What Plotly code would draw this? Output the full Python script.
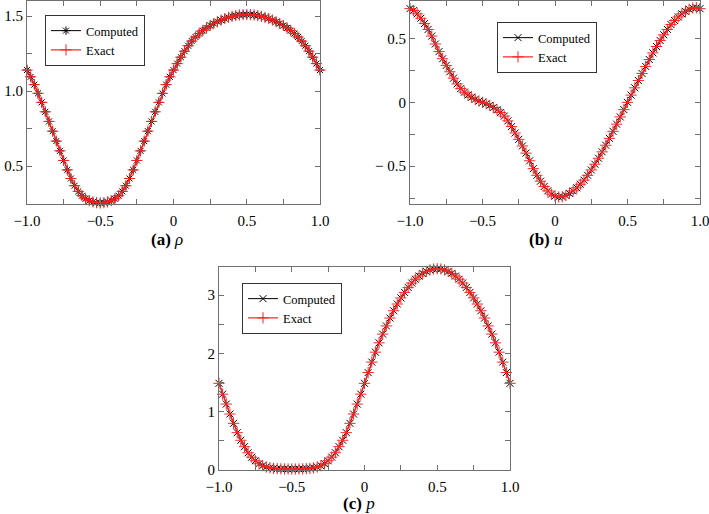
import plotly.graph_objects as go

# ---------------- data ----------------
x_grid = [-1.000, -0.975, -0.950, -0.925, -0.900, -0.875, -0.850, -0.825, -0.800, -0.775,
          -0.750, -0.725, -0.700, -0.675, -0.650, -0.625, -0.600, -0.575, -0.550, -0.525,
          -0.500, -0.475, -0.450, -0.425, -0.400, -0.375, -0.350, -0.325, -0.300, -0.275,
          -0.250, -0.225, -0.200, -0.175, -0.150, -0.125, -0.100, -0.075, -0.050, -0.025,
          0.000, 0.025, 0.050, 0.075, 0.100, 0.125, 0.150, 0.175, 0.200, 0.225,
          0.250, 0.275, 0.300, 0.325, 0.350, 0.375, 0.400, 0.425, 0.450, 0.475,
          0.500, 0.525, 0.550, 0.575, 0.600, 0.625, 0.650, 0.675, 0.700, 0.725,
          0.750, 0.775, 0.800, 0.825, 0.850, 0.875, 0.900, 0.925, 0.950, 0.975, 1.000]

rho_values = [1.140, 1.095, 1.043, 0.985, 0.925, 0.862, 0.798, 0.733, 0.667, 0.602,
              0.538, 0.475, 0.418, 0.370, 0.332, 0.303, 0.283, 0.270, 0.262, 0.257,
              0.255, 0.257, 0.262, 0.270, 0.283, 0.303, 0.332, 0.370, 0.418, 0.475,
              0.538, 0.602, 0.667, 0.733, 0.798, 0.862, 0.925, 0.985, 1.043, 1.095,
              1.140, 1.183, 1.226, 1.266, 1.302, 1.333, 1.360, 1.383, 1.403, 1.421,
              1.437, 1.450, 1.462, 1.473, 1.483, 1.491, 1.498, 1.503, 1.507, 1.509,
              1.510, 1.509, 1.507, 1.503, 1.498, 1.491, 1.483, 1.473, 1.462, 1.450,
              1.437, 1.421, 1.403, 1.383, 1.360, 1.333, 1.302, 1.266, 1.226, 1.183, 1.140]

u_values = [0.735, 0.720, 0.694, 0.660, 0.618, 0.572, 0.520, 0.458, 0.398, 0.342,
            0.290, 0.240, 0.190, 0.145, 0.108, 0.080, 0.058, 0.040, 0.024, 0.010,
            0.000, -0.010, -0.024, -0.040, -0.058, -0.080, -0.108, -0.145, -0.190, -0.240,
            -0.290, -0.342, -0.398, -0.458, -0.520, -0.572, -0.618, -0.660, -0.694, -0.720,
            -0.735, -0.742, -0.740, -0.730, -0.714, -0.694, -0.670, -0.642, -0.610, -0.572,
            -0.530, -0.485, -0.438, -0.388, -0.336, -0.282, -0.227, -0.171, -0.114, -0.057,
            0.000, 0.057, 0.114, 0.171, 0.227, 0.282, 0.336, 0.388, 0.438, 0.485,
            0.530, 0.572, 0.610, 0.642, 0.670, 0.694, 0.714, 0.730, 0.740, 0.742, 0.735]

p_values = [1.486, 1.300, 1.130, 0.960, 0.800, 0.640, 0.510, 0.400, 0.295, 0.220,
            0.158, 0.108, 0.074, 0.052, 0.037, 0.028, 0.023, 0.020, 0.018, 0.017,
            0.017, 0.017, 0.018, 0.020, 0.023, 0.028, 0.037, 0.052, 0.074, 0.108,
            0.158, 0.220, 0.295, 0.400, 0.510, 0.640, 0.800, 0.960, 1.130, 1.300,
            1.486, 1.670, 1.850, 2.020, 2.180, 2.330, 2.470, 2.605, 2.730, 2.845,
            2.950, 3.045, 3.130, 3.205, 3.270, 3.325, 3.370, 3.405, 3.430, 3.445,
            3.450, 3.445, 3.430, 3.405, 3.370, 3.325, 3.270, 3.205, 3.130, 3.045,
            2.950, 2.845, 2.730, 2.605, 2.470, 2.330, 2.180, 2.020, 1.850, 1.670, 1.486]

x_tickvals = [-1.0, -0.75, -0.5, -0.25, 0.0, 0.25, 0.5, 0.75, 1.0]
x_ticktext = ["−1.0", "", "−0.5", "", "0", "", "0.5", "", "1.0"]

rho_tickvals = [0.25, 0.5, 0.75, 1.0, 1.25, 1.5]
rho_ticktext = ["", "0.5", "", "1.0", "", "1.5"]

u_tickvals = [-0.75, -0.5, -0.25, 0.0, 0.25, 0.5, 0.75]
u_ticktext = ["", "− 0.5", "", "0", "", "0.5", ""]

p_tickvals = [0, 0.5, 1, 1.5, 2, 2.5, 3]
p_ticktext = ["0", "", "1", "", "2", "", "3"]

series_names = ["Computed", "Exact"]
panel_titles = ["<b>(a)</b> <i>ρ</i>", "<b>(b)</b> <i>u</i>", "<b>(c)</b> <i>p</i>"]

# ---------------- styling ----------------
FONT = "Liberation Serif"
AXC = "#707070"
W, H = 709, 514


def px_x(v):
    return v / W


def px_y(v):
    return 1 - v / H


fig = go.Figure()

panels = [
    dict(xa="x", ya="y", legend="legend", vals=rho_values, comp_symbol="asterisk-open"),
    dict(xa="x2", ya="y2", legend="legend2", vals=u_values, comp_symbol="x-thin-open"),
    dict(xa="x3", ya="y3", legend="legend3", vals=p_values, comp_symbol="x-thin-open"),
]

for pn in panels:
    fig.add_trace(go.Scatter(
        x=x_grid, y=pn["vals"], name=series_names[0], mode="lines+markers",
        xaxis=pn["xa"], yaxis=pn["ya"], legend=pn["legend"], cliponaxis=False,
        line=dict(color="black", width=1),
        marker=dict(symbol=pn["comp_symbol"], size=7, color="black",
                    line=dict(color="black", width=1)),
    ))
    fig.add_trace(go.Scatter(
        x=x_grid, y=pn["vals"], name=series_names[1], mode="lines+markers",
        xaxis=pn["xa"], yaxis=pn["ya"], legend=pn["legend"], cliponaxis=False,
        line=dict(color="#ff2020", width=1.2),
        marker=dict(symbol="cross-thin-open", size=8, color="#ff2020",
                    line=dict(color="#ff2020", width=1)),
    ))


def axis(domain, rng, tickvals, ticktext, anchor, is_x):
    d = dict(
        domain=domain, range=rng, anchor=anchor, automargin=False,
        showline=True, linecolor=AXC, linewidth=1, mirror="ticks",
        showgrid=False, zeroline=False,
        ticks="inside", ticklen=5, tickwidth=1, tickcolor=AXC,
        tickmode="array", tickvals=tickvals, ticktext=ticktext,
        tickfont=dict(family=FONT, size=15, color="black"),
        ticklabeloverflow="allow",
    )
    if is_x:
        d["ticklabelstandoff"] = 3
    return d


dom_a_x = [px_x(27), px_x(320)]
dom_b_x = [px_x(410), px_x(700)]
dom_c_x = [px_x(219), px_x(510)]
dom_top_y = [px_y(204), px_y(1)]
dom_c_y = [px_y(470), px_y(267)]

legend_common = dict(
    font=dict(family=FONT, size=12.5, color="black"),
    bgcolor="white", bordercolor="#333333", borderwidth=1,
    xanchor="left", yanchor="top", tracegroupgap=0,
)

fig.update_layout(
    width=W, height=H,
    margin=dict(l=0, r=0, t=0, b=0, autoexpand=False),
    paper_bgcolor="white", plot_bgcolor="white",
    showlegend=True,
    xaxis=axis(dom_a_x, [-1, 1], x_tickvals, x_ticktext, "y", True),
    yaxis=axis(dom_top_y, [0.248, 1.6], rho_tickvals, rho_ticktext, "x", False),
    xaxis2=axis(dom_b_x, [-1, 1], x_tickvals, x_ticktext, "y2", True),
    yaxis2=axis(dom_top_y, [-0.797, 0.795], u_tickvals, u_ticktext, "x2", False),
    xaxis3=axis(dom_c_x, [-1, 1], x_tickvals, x_ticktext, "y3", True),
    yaxis3=axis(dom_c_y, [0, 3.48], p_tickvals, p_ticktext, "x3", False),
    legend=dict(x=px_x(45), y=px_y(15), **legend_common),
    legend2=dict(x=px_x(497), y=px_y(22), **legend_common),
    legend3=dict(x=px_x(242), y=px_y(283), **legend_common),
)

title_pos = [(167, 239), (546, 239), (359, 503)]
for txt, (tx, ty) in zip(panel_titles, title_pos):
    fig.add_annotation(
        x=px_x(tx), y=px_y(ty), xref="paper", yref="paper",
        text=txt, showarrow=False, xanchor="center", yanchor="middle",
        font=dict(family=FONT, size=17, color="black"),
    )

fig.write_html(
    "out.html",
    config={"displayModeBar": False},
    post_script="document.body.style.margin='0px';document.body.style.overflow='hidden';",
)
